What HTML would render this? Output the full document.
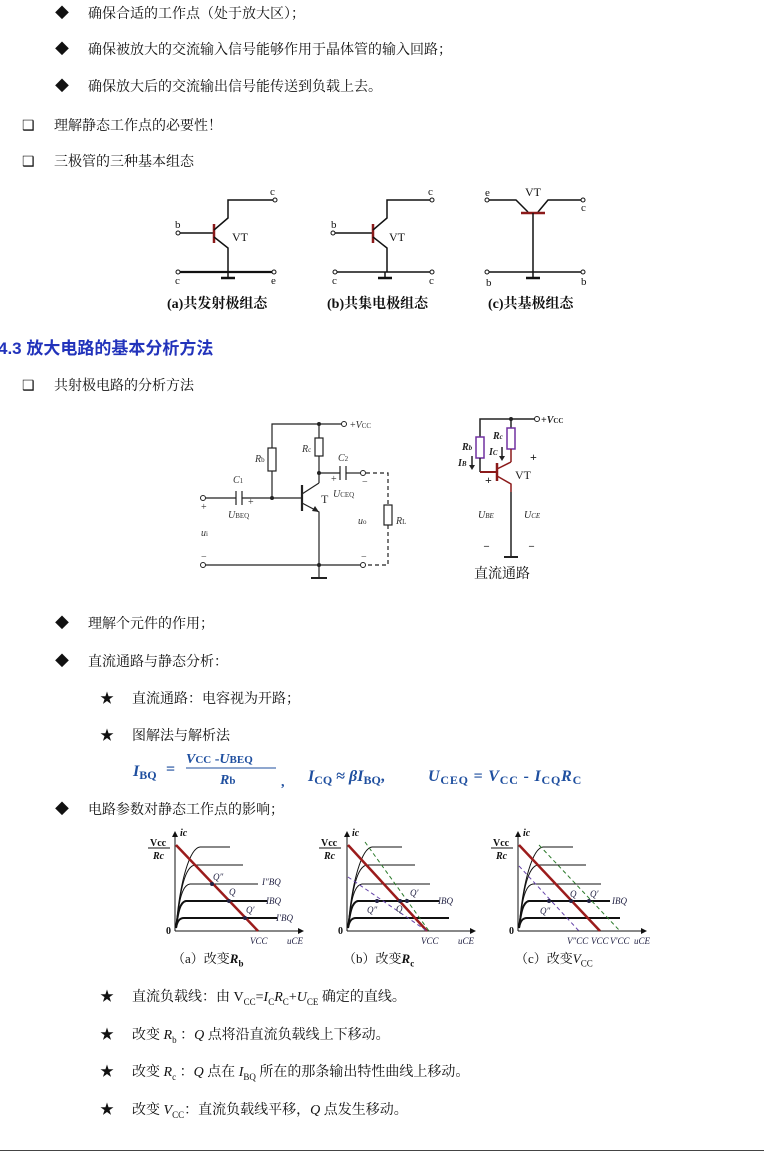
<!DOCTYPE html>
<html><head><meta charset="utf-8"><style>
body{margin:0;width:764px;height:1156px;position:relative;background:#fff;font-family:"Liberation Serif","Noto Serif CJK SC",serif;color:#111;overflow:hidden}
.t{position:absolute;font-size:14px;line-height:16px;white-space:nowrap}
.s{font-size:13px}
svg{position:absolute;left:0;top:0}
</style></head><body>
<div class="t" style="left:55px;top:7px">◆</div><div class="t" style="left:88px;top:7px">确保合适的工作点（处于放大区）；</div>
<div class="t" style="left:55px;top:43px">◆</div><div class="t" style="left:88px;top:43px">确保被放大的交流输入信号能够作用于晶体管的输入回路；</div>
<div class="t" style="left:55px;top:80px">◆</div><div class="t" style="left:88px;top:80px">确保放大后的交流输出信号能传送到负载上去。</div>
<div class="t" style="left:22px;top:119px">❑</div><div class="t" style="left:54px;top:119px">理解静态工作点的必要性！</div>
<div class="t" style="left:22px;top:155px">❑</div><div class="t" style="left:54px;top:155px">三极管的三种基本组态</div>
<div class="t" style="left:167px;top:297px;font-weight:bold">(a)共发射极组态</div>
<div class="t" style="left:327px;top:297px;font-weight:bold">(b)共集电极组态</div>
<div class="t" style="left:488px;top:297px;font-weight:bold">(c)共基极组态</div>
<div class="t" style="left:-2px;top:339px;font-size:17px;line-height:20px;font-weight:bold;color:#2233bb;font-family:'Liberation Sans','Noto Sans CJK SC',sans-serif">4.3 放大电路的基本分析方法</div>
<div class="t" style="left:22px;top:379px">❑</div><div class="t" style="left:54px;top:379px">共射极电路的分析方法</div>
<div class="t" style="left:474px;top:567px;font-size:14px">直流通路</div>
<div class="t" style="left:55px;top:617px">◆</div><div class="t" style="left:88px;top:617px">理解个元件的作用；</div>
<div class="t" style="left:55px;top:655px">◆</div><div class="t" style="left:88px;top:655px">直流通路与静态分析：</div>
<div class="t" style="left:100px;top:692px">★</div><div class="t" style="left:132px;top:692px">直流通路：电容视为开路；</div>
<div class="t" style="left:100px;top:729px">★</div><div class="t" style="left:132px;top:729px">图解法与解析法</div>
<div class="t" style="left:55px;top:803px">◆</div><div class="t" style="left:88px;top:803px">电路参数对静态工作点的影响；</div>
<div class="t s" style="left:172px;top:951px">（a）改变<b><i>R</i><sub style="font-size:9px">b</sub></b></div>
<div class="t s" style="left:343px;top:951px">（b）改变<b><i>R</i><sub style="font-size:9px">c</sub></b></div>
<div class="t s" style="left:515px;top:951px">（c）改变<i>V</i><sub style="font-size:9px">CC</sub></div>
<div class="t" style="left:100px;top:990px">★</div><div class="t" style="left:132px;top:990px">直流负载线：由 V<sub style="font-size:9px">CC</sub>=<i>I</i><sub style="font-size:9px">C</sub><i>R</i><sub style="font-size:9px">C</sub>+<i>U</i><sub style="font-size:9px">CE</sub> 确定的直线。</div>
<div class="t" style="left:100px;top:1028px">★</div><div class="t" style="left:132px;top:1028px">改变 <i>R</i><sub style="font-size:9px">b</sub> ：<i>Q</i> 点将沿直流负载线上下移动。</div>
<div class="t" style="left:100px;top:1065px">★</div><div class="t" style="left:132px;top:1065px">改变 <i>R</i><sub style="font-size:9px">c</sub> ：<i>Q</i> 点在 <i>I</i><sub style="font-size:9px">BQ</sub> 所在的那条输出特性曲线上移动。</div>
<div class="t" style="left:100px;top:1103px">★</div><div class="t" style="left:132px;top:1103px">改变 <i>V</i><sub style="font-size:9px">CC</sub>：直流负载线平移，<i>Q</i> 点发生移动。</div>
<div style="position:absolute;left:0;top:1150px;width:764px;height:1px;background:#444"></div>

<svg width="764" height="1156" font-family="Liberation Serif,serif">
<!-- formula -->
<g fill="#1f4f9f" font-weight="bold" font-style="italic">
<text x="133" y="776" font-size="16">I<tspan font-size="12" font-style="normal" dy="3">BQ</tspan></text>
<text x="166" y="774" font-size="16" font-style="normal">=</text>
<text x="186" y="763" font-size="14">V<tspan font-size="11" font-style="normal">CC</tspan><tspan font-style="normal"> -</tspan>U<tspan font-size="11" font-style="normal">BEQ</tspan></text>
<line x1="186" y1="768" x2="276" y2="768" stroke="#1f4f9f" stroke-width="1"/>
<text x="220" y="784" font-size="14">R<tspan font-size="11" font-style="normal">b</tspan></text>
<text x="281" y="786" font-size="14" font-style="normal">,</text>
<text x="308" y="781" font-size="16">I<tspan font-size="12" font-style="normal" dy="3">CQ</tspan><tspan dy="-3" font-style="normal"> ≈ </tspan>βI<tspan font-size="12" font-style="normal" dy="3">BQ</tspan><tspan dy="-3" font-style="normal">,</tspan></text>
<text x="428" y="781" font-size="16" letter-spacing="0.8">U<tspan font-size="12" font-style="normal" dy="3">CEQ</tspan><tspan dy="-3" font-style="normal"> = </tspan>V<tspan font-size="12" font-style="normal" dy="3">CC</tspan><tspan dy="-3" font-style="normal"> - </tspan>I<tspan font-size="12" font-style="normal" dy="3">CQ</tspan><tspan dy="-3">R</tspan><tspan font-size="12" font-style="normal" dy="3">C</tspan></text>
</g>

<!-- transistor configs -->
<g stroke="#111" stroke-width="1.5" fill="none">
<line x1="180" y1="233" x2="214" y2="233"/><line x1="214" y1="224" x2="214" y2="243" stroke="#8b1a1a" stroke-width="2.5"/>
<polyline points="214,230 228,218 228,200 275,200" /><polyline points="214,237 228,248 228,272"/>
<line x1="178" y1="272" x2="274" y2="272" stroke-width="2.2"/><line x1="221" y1="278" x2="235" y2="278" stroke-width="2.5"/><line x1="228" y1="272" x2="228" y2="278"/>
<line x1="335" y1="233" x2="373" y2="233"/><line x1="373" y1="224" x2="373" y2="243" stroke="#8b1a1a" stroke-width="2.5"/>
<polyline points="373,230 387,218 387,200 432,200"/><polyline points="373,237 387,248 387,272"/>
<line x1="335" y1="272" x2="432" y2="272"/><line x1="378" y1="278" x2="392" y2="278" stroke-width="2.5"/><line x1="385" y1="272" x2="385" y2="278"/>
<polyline points="488,200 516,200 528,212"/><polyline points="538,212 548,200 583,200"/>
<line x1="521" y1="213" x2="545" y2="213" stroke="#8b1a1a" stroke-width="2.5"/>
<line x1="533" y1="213" x2="533" y2="272"/>
<line x1="487" y1="272" x2="583" y2="272"/><line x1="526" y1="278" x2="540" y2="278" stroke-width="2.5"/><line x1="533" y1="272" x2="533" y2="278"/>
</g>
<g fill="#fff" stroke="#111" stroke-width="1">
<circle cx="178" cy="233" r="2"/><circle cx="275" cy="200" r="2"/><circle cx="178" cy="272" r="2"/><circle cx="274" cy="272" r="2"/>
<circle cx="333" cy="233" r="2"/><circle cx="432" cy="200" r="2"/><circle cx="335" cy="272" r="2"/><circle cx="432" cy="272" r="2"/>
<circle cx="487" cy="200" r="2"/><circle cx="583" cy="200" r="2"/><circle cx="487" cy="272" r="2"/><circle cx="583" cy="272" r="2"/>
</g>
<g font-size="11" fill="#111">
<text x="270" y="195">c</text><text x="175" y="228">b</text><text x="232" y="241" font-size="12">VT</text><text x="175" y="284">c</text><text x="271" y="284">e</text>
<text x="428" y="195">c</text><text x="331" y="228">b</text><text x="389" y="241" font-size="12">VT</text><text x="332" y="284">c</text><text x="429" y="284">c</text>
<text x="485" y="196">e</text><text x="525" y="196" font-size="12">VT</text><text x="581" y="211">c</text><text x="486" y="286">b</text><text x="581" y="285">b</text>
</g>

<!-- circuit -->
<g stroke="#222" stroke-width="1.2" fill="none">
<polyline points="272,448 272,424 342,424"/>
<rect x="268" y="448" width="8" height="23"/>
<line x1="272" y1="471" x2="272" y2="498"/>
<line x1="319" y1="424" x2="319" y2="438"/><rect x="315" y="438" width="8" height="18"/><line x1="319" y1="456" x2="319" y2="483"/>
<line x1="319" y1="473" x2="340" y2="473"/><line x1="340" y1="466" x2="340" y2="480"/><line x1="346" y1="466" x2="346" y2="480"/><line x1="346" y1="473" x2="361" y2="473"/>
<polyline points="366,473 388,473 388,505" stroke-dasharray="4,3"/><rect x="384" y="505" width="8" height="20"/><polyline points="388,525 388,565 366,565" stroke-dasharray="4,3"/>
<line x1="205" y1="498" x2="236" y2="498"/><line x1="236" y1="491" x2="236" y2="505"/><line x1="242" y1="491" x2="242" y2="505"/><line x1="242" y1="498" x2="301" y2="498"/>
<line x1="302" y1="485" x2="302" y2="511" stroke-width="2.2"/>
<polyline points="302,494 319,483"/><polyline points="302,503 319,512 319,565"/>
<line x1="205" y1="565" x2="361" y2="565"/>
<line x1="319" y1="565" x2="319" y2="578"/><line x1="311" y1="578" x2="327" y2="578" stroke-width="2"/>
</g>
<g fill="#222"><circle cx="319" cy="424" r="2"/><circle cx="319" cy="473" r="2"/><circle cx="272" cy="498" r="2"/><circle cx="319" cy="565" r="2"/>
<polygon points="319,512 312,511 315,506"/></g>
<g fill="#fff" stroke="#222"><circle cx="344" cy="424" r="2.5"/><circle cx="363" cy="473" r="2.5"/><circle cx="203" cy="498" r="2.5"/><circle cx="203" cy="565" r="2.5"/><circle cx="363" cy="565" r="2.5"/></g>
<g font-size="10" fill="#333" font-style="italic">
<text x="350" y="428" font-style="normal">+<tspan font-style="italic">V</tspan><tspan font-size="7" font-style="normal">CC</tspan></text>
<text x="255" y="462">R<tspan font-size="7" font-style="normal">b</tspan></text><text x="302" y="452">R<tspan font-size="7" font-style="normal">c</tspan></text>
<text x="338" y="461">C<tspan font-size="7" font-style="normal">2</tspan></text><text x="233" y="483">C<tspan font-size="7" font-style="normal">1</tspan></text>
<text x="333" y="497">U<tspan font-size="7" font-style="normal">CEQ</tspan></text><text x="228" y="518">U<tspan font-size="7" font-style="normal">BEQ</tspan></text>
<text x="321" y="503" font-style="normal" font-size="12">T</text>
<text x="358" y="524">u<tspan font-size="7" font-style="normal">o</tspan></text><text x="396" y="524">R<tspan font-size="7" font-style="normal">L</tspan></text>
<text x="201" y="536">u<tspan font-size="7" font-style="normal">i</tspan></text>
<text x="201" y="510" font-style="normal">+</text><text x="248" y="505" font-style="normal">+</text><text x="331" y="482" font-style="normal">+</text><text x="362" y="485" font-style="normal">−</text><text x="201" y="560" font-style="normal">−</text><text x="361" y="560" font-style="normal">−</text>
</g>

<!-- DC path -->
<g fill="none" stroke-width="1.5">
<polyline points="480,437 480,419 535,419" stroke="#222"/>
<rect x="476" y="437" width="8" height="21" stroke="#7030a0"/>
<line x1="480" y1="458" x2="480" y2="472" stroke="#222"/><line x1="480" y1="472" x2="497" y2="472" stroke="#8b1a1a" stroke-width="2"/>
<line x1="511" y1="419" x2="511" y2="428" stroke="#222"/><rect x="507" y="428" width="8" height="21" stroke="#7030a0"/>
<line x1="511" y1="449" x2="511" y2="462" stroke="#8b1a1a"/>
<line x1="497" y1="463" x2="497" y2="481" stroke="#8b1a1a" stroke-width="2.5"/>
<polyline points="497,469 511,462" stroke="#8b1a1a"/><polyline points="497,476 511,484 511,492" stroke="#8b1a1a"/>
<line x1="511" y1="492" x2="511" y2="556" stroke="#222"/><line x1="504" y1="557" x2="518" y2="557" stroke="#222" stroke-width="2"/>
<line x1="472" y1="456" x2="472" y2="466" stroke="#222"/><line x1="502" y1="447" x2="502" y2="457" stroke="#222"/>
</g>
<circle cx="511" cy="419" r="2" fill="#222"/><circle cx="537" cy="419" r="2.5" fill="#fff" stroke="#222"/>
<polygon points="469,465 475,465 472,470" fill="#222"/><polygon points="499,456 505,456 502,461" fill="#222"/>
<g font-size="10" fill="#222" font-weight="bold">
<text x="541" y="423">+<tspan font-style="italic">V</tspan><tspan font-size="7">CC</tspan></text>
<text x="462" y="450" font-style="italic">R<tspan font-size="7">b</tspan></text><text x="493" y="439" font-style="italic">R<tspan font-size="7">c</tspan></text>
<text x="458" y="466" font-style="italic">I<tspan font-size="7">B</tspan></text><text x="489" y="455" font-style="italic">I<tspan font-size="7">C</tspan></text>
<text x="515" y="479" font-size="12" font-weight="normal">VT</text>
<text x="485" y="484" font-size="12">+</text><text x="530" y="461" font-size="12">+</text>
<text x="478" y="518" font-style="italic" font-weight="normal">U<tspan font-size="7">BE</tspan></text><text x="524" y="518" font-style="italic" font-weight="normal">U<tspan font-size="7">CE</tspan></text>
<text x="484" y="549">–</text><text x="529" y="549">–</text>
</g>

<!-- graphs -->
<defs><marker id="ar" markerWidth="6" markerHeight="6" refX="5" refY="3" orient="auto"><path d="M0,0L6,3L0,6z" fill="#111"/></marker></defs>
<g id="g1">
<g stroke="#111" fill="none">
<line x1="175" y1="931" x2="175" y2="832" marker-end="url(#ar)"/><line x1="175" y1="931" x2="303" y2="931" marker-end="url(#ar)"/>
<path d="M176,928 C180,880 190,848 200,847 L230,847"/><path d="M176,928 C180,890 185,866 195,865 L243,865"/><path d="M176,928 C179,900 182,885 190,884 L258,884"/>
<path d="M176,928 C178,912 180,902 186,901 L267,901" stroke-width="2"/><path d="M176,928 C177,922 179,918 184,918 L277,918" stroke-width="2"/>
</g>
</g>
<g fill="#111" font-size="10" font-weight="bold">
<text x="150" y="846">Vcc</text><line x1="148" y1="848" x2="170" y2="848" stroke="#111"/><text x="153" y="859" font-style="italic">Rc</text>
<text x="166" y="934">0</text><text x="180" y="836" font-style="italic">ic</text>
<text x="321" y="846">Vcc</text><line x1="319" y1="848" x2="341" y2="848" stroke="#111"/><text x="324" y="859" font-style="italic">Rc</text>
<text x="338" y="934">0</text><text x="352" y="836" font-style="italic">ic</text>
<text x="493" y="846">Vcc</text><line x1="491" y1="848" x2="513" y2="848" stroke="#111"/><text x="496" y="859" font-style="italic">Rc</text>
<text x="509" y="934">0</text><text x="523" y="836" font-style="italic">ic</text>
</g>
<use href="#g1" x="172"/><use href="#g1" x="343"/>
<line x1="176" y1="845" x2="258" y2="931" stroke="#9b1c1c" stroke-width="2.5"/>
<g fill="#224" font-size="9" font-style="italic"><circle cx="212" cy="884" r="2"/><circle cx="229" cy="901" r="2"/><circle cx="245" cy="918" r="2"/>
<text x="213" y="880">Q″</text><text x="229" y="895">Q</text><text x="246" y="913">Q′</text><text x="262" y="885">I″BQ</text><text x="266" y="904">IBQ</text><text x="276" y="921">I′BQ</text><text x="250" y="944">VCC</text><text x="287" y="944">uCE</text></g>
<line x1="348" y1="845" x2="427" y2="931" stroke="#9b1c1c" stroke-width="2.5"/>
<line x1="365" y1="842" x2="429" y2="931" stroke="#2a7a2a" stroke-dasharray="4,3"/>
<line x1="348" y1="877" x2="427" y2="931" stroke="#6644aa" stroke-dasharray="4,3"/>
<g fill="#224" font-size="9" font-style="italic"><circle cx="377" cy="901" r="2"/><circle cx="400" cy="901" r="2"/><circle cx="407" cy="901" r="2"/>
<text x="367" y="913">Q″</text><text x="396" y="912">Q</text><text x="410" y="896">Q′</text><text x="438" y="904">IBQ</text><text x="421" y="944">VCC</text><text x="458" y="944">uCE</text></g>
<line x1="519" y1="845" x2="600" y2="931" stroke="#9b1c1c" stroke-width="2.5"/>
<line x1="539" y1="845" x2="620" y2="931" stroke="#2a7a2a" stroke-dasharray="4,3"/>
<line x1="519" y1="866" x2="579" y2="931" stroke="#6644aa" stroke-dasharray="4,3"/>
<g fill="#224" font-size="9" font-style="italic"><circle cx="549" cy="901" r="2"/><circle cx="571" cy="901" r="2"/><circle cx="589" cy="901" r="2"/>
<text x="540" y="914">Q″</text><text x="570" y="897">Q</text><text x="590" y="897">Q′</text><text x="612" y="904">IBQ</text><text x="567" y="944">V″CC</text><text x="591" y="944">VCC</text><text x="610" y="944">V′CC</text><text x="634" y="944">uCE</text></g>
</svg>
</body></html>
